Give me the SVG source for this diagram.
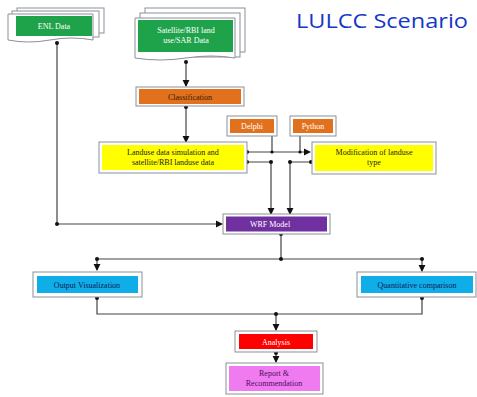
<svg xmlns="http://www.w3.org/2000/svg" width="477" height="397" viewBox="0 0 477 397">
  <defs>
    <style>
      .frame { fill: #ffffff; stroke: #8a8f99; stroke-width: 1; }
      .doc { fill: #ffffff; stroke: #8a8f99; stroke-width: 1; }
      .lbl { font-family: "Liberation Serif", "Times New Roman", serif; font-size: 8px; text-anchor: middle; }
      .wire { fill: none; stroke: #444444; stroke-width: 1.2; }
      .dot { fill: #111111; }
    </style>
    <marker id="arr" viewBox="0 0 8 8" refX="7" refY="4" markerWidth="6" markerHeight="6" orient="auto">
      <path d="M0,0 L8,4 L0,8 z" fill="#111111"/>
    </marker>
  </defs>

  <rect width="477" height="397" fill="#ffffff"/>

  <!-- title -->
  <text x="296" y="28" font-family="'Open Sans', 'Liberation Sans', sans-serif" font-size="20" fill="#1537c8" textLength="172" lengthAdjust="spacingAndGlyphs">LULCC Scenario</text>

  <!-- connectors -->
  <g id="connectors">
    <!-- ENL data to WRF -->
    <path class="wire" d="M57,42 V224 H222" marker-end="url(#arr)"/>
    <!-- satellite to classification -->
    <path class="wire" d="M186,61 V86" marker-end="url(#arr)"/>
    <!-- classification to landuse simulation -->
    <path class="wire" d="M186,106 V142" marker-end="url(#arr)"/>
    <!-- Delphi / Python bus -->
    <path class="wire" d="M247,152 H310" marker-end="url(#arr)"/>
    <path class="wire" d="M272,136 V151"/>
    <path class="wire" d="M300,136 V151"/>
    <!-- landuse boxes to WRF -->
    <path class="wire" d="M247,162 H271 V214" marker-end="url(#arr)"/>
    <path class="wire" d="M311,162 H290 V214" marker-end="url(#arr)"/>
    <!-- WRF to outputs -->
    <path class="wire" d="M281,233 V259"/>
    <path class="wire" d="M97,259 H422"/>
    <path class="wire" d="M97,259 V270" marker-end="url(#arr)"/>
    <path class="wire" d="M422,259 V271" marker-end="url(#arr)"/>
    <!-- outputs to analysis -->
    <path class="wire" d="M97,297 V314 H422 V298"/>
    <path class="wire" d="M276,314 V330" marker-end="url(#arr)"/>
    <!-- analysis to report -->
    <path class="wire" d="M276,352 V362" marker-end="url(#arr)"/>
    <!-- junction dots -->
    <circle class="dot" cx="57" cy="43" r="2"/>
    <circle class="dot" cx="57" cy="224" r="2"/>
    <circle class="dot" cx="186" cy="62" r="2"/>
    <circle class="dot" cx="186" cy="107" r="2"/>
    <circle class="dot" cx="247" cy="152" r="2"/>
    <circle class="dot" cx="247" cy="162" r="2"/>
    <circle class="dot" cx="272" cy="152" r="1.6"/>
    <circle class="dot" cx="300" cy="152" r="1.6"/>
    <circle class="dot" cx="271" cy="162" r="2"/>
    <circle class="dot" cx="290" cy="162" r="2"/>
    <circle class="dot" cx="311" cy="162" r="2"/>
    <circle class="dot" cx="281" cy="234" r="2"/>
    <circle class="dot" cx="281" cy="259" r="2"/>
    <circle class="dot" cx="97" cy="259" r="2"/>
    <circle class="dot" cx="422" cy="259" r="2"/>
    <circle class="dot" cx="97" cy="298" r="2"/>
    <circle class="dot" cx="422" cy="298" r="2"/>
    <circle class="dot" cx="276" cy="314" r="2"/>
    <circle class="dot" cx="276" cy="353" r="2"/>
  </g>

  <!-- ENL Data (multi-document) -->
  <g id="enl-data">
    <rect class="doc" x="17" y="8" width="87" height="25"/>
    <rect class="doc" x="12" y="11" width="87" height="26"/>
    <path class="doc" d="M8,14 H93 V40 Q72,36 50,40 Q28,44 8,40 Z"/>
    <rect x="16" y="16" width="76" height="20" fill="#1fa34a"/>
    <text class="lbl" x="54" y="29" fill="#ffffff">ENL Data</text>
  </g>

  <!-- Satellite data (multi-document) -->
  <g id="satellite-data">
    <rect class="doc" x="145" y="8" width="100" height="44"/>
    <rect class="doc" x="140" y="13" width="100" height="44"/>
    <path class="doc" d="M135,18 H235 V58 Q212,54 186,58 Q160,62 135,58 Z"/>
    <rect x="138" y="20" width="95" height="32" fill="#1fa34a"/>
    <text class="lbl" x="186" y="33" fill="#ffffff">Satellite/RBI land</text>
    <text class="lbl" x="186" y="43" fill="#ffffff">use/SAR Data</text>
  </g>

  <!-- Classification -->
  <g id="classification">
    <rect class="frame" x="136" y="87" width="108" height="19"/>
    <rect x="139" y="89" width="102" height="15" fill="#e2711d"/>
    <text class="lbl" x="190" y="99.5" fill="#3a1a00">Classification</text>
  </g>

  <!-- Delphi -->
  <g id="delphi">
    <rect class="frame" x="227" y="116" width="50" height="20"/>
    <rect x="230" y="119" width="44" height="14" fill="#e2711d"/>
    <text class="lbl" x="252" y="129" fill="#ffffff">Delphi</text>
  </g>

  <!-- Python -->
  <g id="python">
    <rect class="frame" x="290" y="116" width="46" height="20"/>
    <rect x="293" y="119" width="40" height="14" fill="#e2711d"/>
    <text class="lbl" x="313" y="129" fill="#ffffff">Python</text>
  </g>

  <!-- Landuse data simulation -->
  <g id="landuse-simulation">
    <rect class="frame" x="99" y="142" width="148" height="31"/>
    <rect x="102" y="145" width="142" height="25" fill="#ffff00"/>
    <text class="lbl" x="173" y="155" fill="#222222">Landuse data simulation and</text>
    <text class="lbl" x="173" y="165" fill="#222222">satellite/RBI landuse data</text>
  </g>

  <!-- Modification of landuse type -->
  <g id="landuse-modification">
    <rect class="frame" x="312" y="142" width="124" height="32"/>
    <rect x="315" y="145" width="118" height="26" fill="#ffff00"/>
    <text class="lbl" x="374" y="155" fill="#222222">Modification of landuse</text>
    <text class="lbl" x="374" y="165" fill="#222222">type</text>
  </g>

  <!-- WRF Model -->
  <g id="wrf-model">
    <rect class="frame" x="223" y="214" width="107" height="20"/>
    <rect x="226" y="216.5" width="101" height="15" fill="#7030a0"/>
    <text class="lbl" x="270" y="227" fill="#ffffff">WRF Model</text>
  </g>

  <!-- Output Visualization -->
  <g id="output-visualization">
    <rect class="frame" x="33" y="272" width="109" height="25"/>
    <rect x="37" y="276" width="101" height="17" fill="#10aee8"/>
    <text class="lbl" x="87" y="287.5" fill="#0d1a55">Output Visualization</text>
  </g>

  <!-- Quantitative comparison -->
  <g id="quantitative-comparison">
    <rect class="frame" x="357" y="272" width="119" height="25"/>
    <rect x="361" y="276" width="112" height="17" fill="#10aee8"/>
    <text class="lbl" x="417" y="287.5" fill="#0d1a55">Quantitative comparison</text>
  </g>

  <!-- Analysis -->
  <g id="analysis">
    <rect class="frame" x="235" y="331" width="82" height="21"/>
    <rect x="239" y="334" width="74" height="15" fill="#ff0000"/>
    <text class="lbl" x="276" y="344.5" fill="#ffffff">Analysis</text>
  </g>

  <!-- Report & Recommendation -->
  <g id="report">
    <rect class="frame" x="226" y="363" width="97" height="31"/>
    <rect x="229" y="366" width="91" height="25" fill="#f07af0"/>
    <text class="lbl" x="274" y="376" fill="#4a1060">Report &amp;</text>
    <text class="lbl" x="274" y="386" fill="#4a1060">Recommendation</text>
  </g>
</svg>
